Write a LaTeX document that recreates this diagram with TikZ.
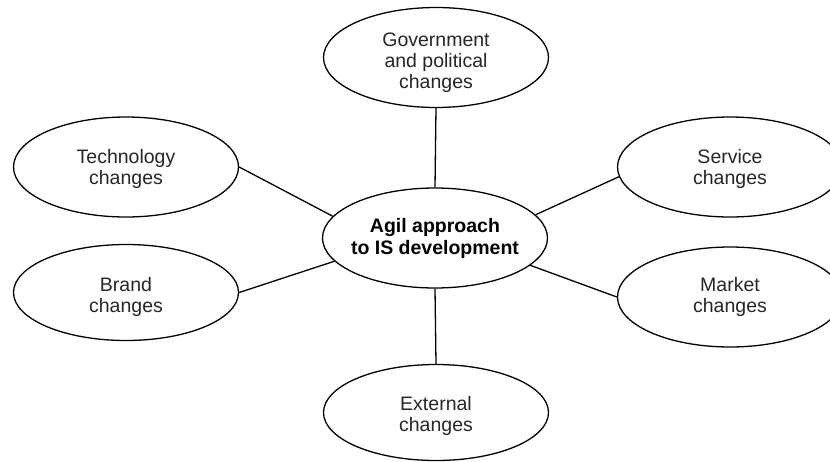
\documentclass[tikz,border=0pt]{standalone}
\usepackage{fontspec}
\setmainfont{Liberation Sans}
\usetikzlibrary{shapes.geometric}
\newcommand\lowerby[1]{\rule{0pt}{#1pt}}
\begin{document}
\begin{tikzpicture}[x=1pt,y=-1pt,
  bub/.style={ellipse,draw,line width=1.3pt,minimum width=225pt,minimum height=100pt,
    inner xsep=-20pt,inner ysep=0pt,align=center,font=\fontsize{19.5}{21}\selectfont,
    text={rgb,1:red,0.15;green,0.15;blue,0.15}},
  conn/.style={line width=1.3pt}]
\useasboundingbox (0,0) rectangle (830,461);
\node[bub] (gov) at (436,57.5) {\lowerby{24.3}Government\\and political\\changes};
\node[bub] (tech) at (126,167) {\lowerby{17.3}Technology\\changes};
\node[bub,minimum height=96pt] (brand) at (126,292.5) {\lowerby{22.3}Brand\\changes};
\node[bub,font=\fontsize{19.5}{22}\selectfont\bfseries,text=black] (main) at (435,238) {Agil approach\\to IS development};
\node[bub] (service) at (730,167) {\lowerby{17.3}Service\\changes};
\node[bub] (market) at (730,297) {Market\\changes};
\node[bub,minimum height=96pt] (ext) at (436,412.5) {\lowerby{20.3}External\\changes};
\draw[conn] (gov.south) -- (main.north);
\draw[conn] (tech.east) -- (main.168);
\draw[conn] (brand.east) -- (main.193);
\draw[conn] (service.185) -- (main.13);
\draw[conn] (market.west) -- (main.344);
\draw[conn] (main.south) -- (ext.north);
\end{tikzpicture}
\end{document}
